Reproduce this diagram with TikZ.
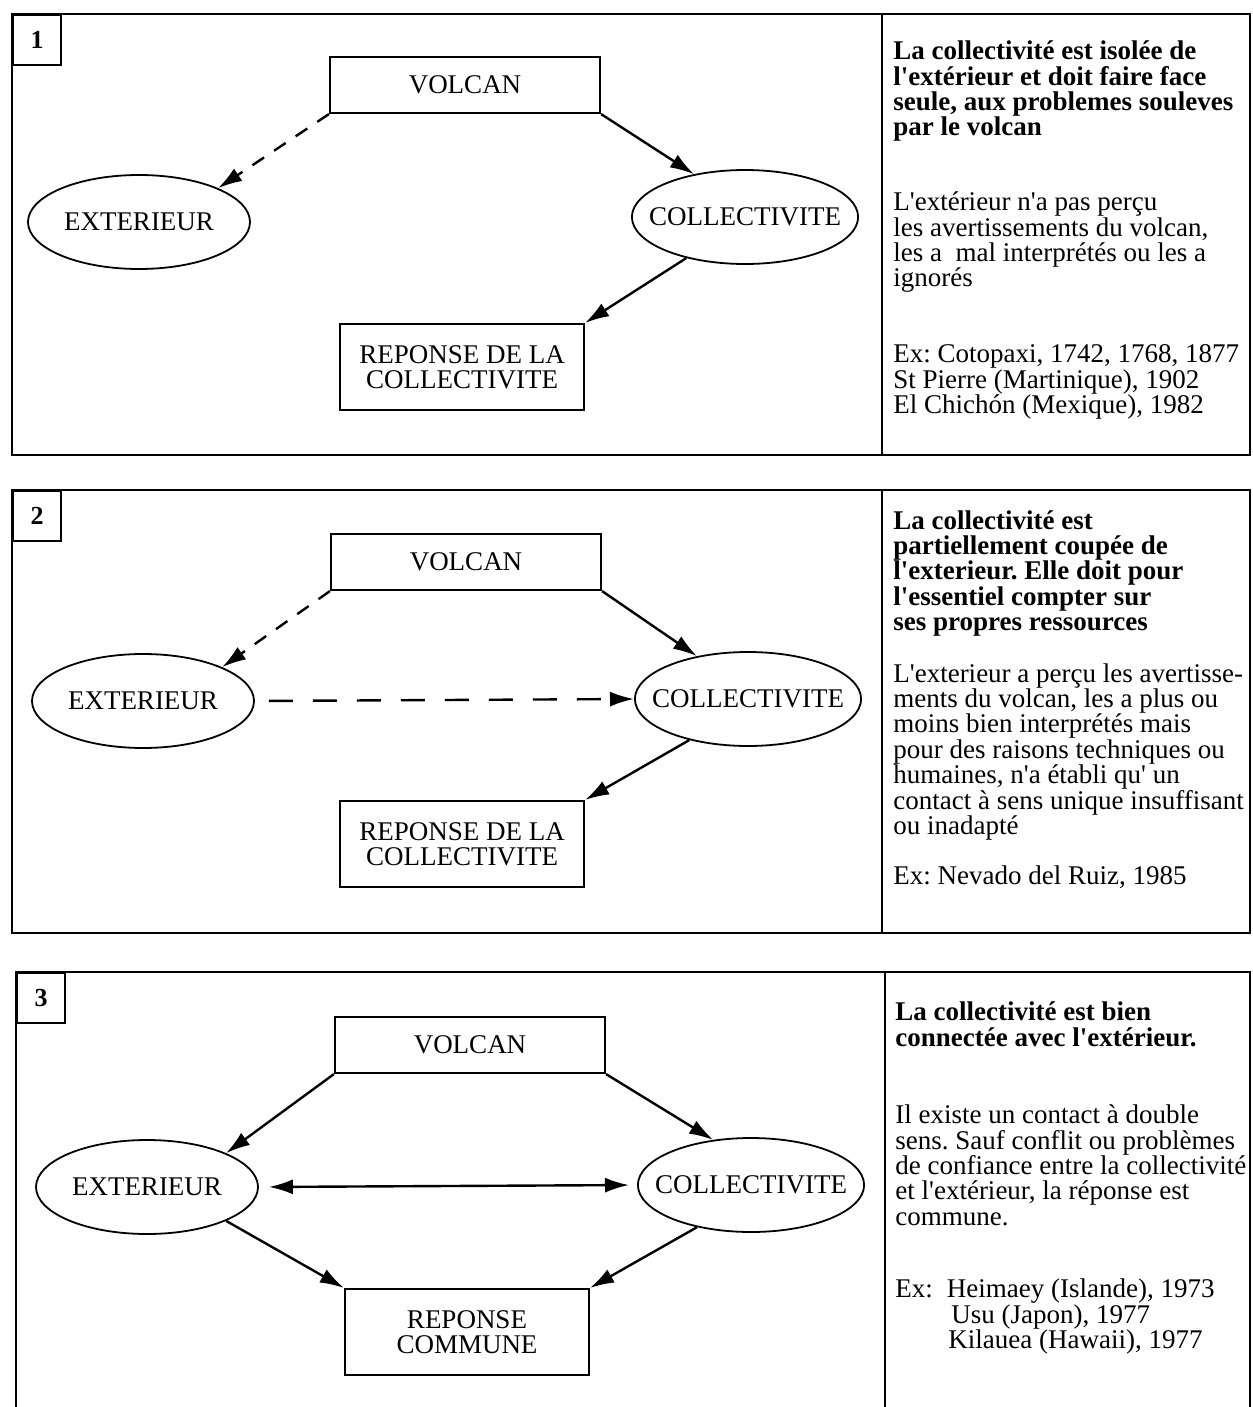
\documentclass[tikz,border=0pt]{standalone}
\usepackage{fontspec}
\setmainfont{Liberation Serif}[Ligatures=TeXOff]
\usetikzlibrary{arrows.meta, positioning, shapes.geometric}
\frenchspacing

\begin{document}
\begin{tikzpicture}[
    x=0.5pt, y=-0.5pt,
    every node/.style={font=\fontsize{13.5}{12.7}\selectfont},
    frame/.style={line width=1.1pt},
    numbox/.style={
        draw, line width=1.1pt, anchor=north west,
        minimum width=24pt, minimum height=25pt,
        font=\bfseries\fontsize{13}{13}\selectfont
    },
    source/.style={
        draw, rectangle, line width=1.1pt,
        minimum width=135pt, minimum height=28pt
    },
    actor/.style={
        draw, ellipse, line width=0.9pt,
        minimum width=111pt, minimum height=47pt,
        inner xsep=-8pt, inner ysep=0pt
    },
    outcome/.style={
        draw, rectangle, line width=1.1pt,
        minimum width=122pt, minimum height=43pt,
        align=center
    },
    lead/.style={
        anchor=north west, align=left, inner sep=0pt,
        font=\bfseries\fontsize{13.5}{12.7}\selectfont
    },
    note/.style={anchor=north west, align=left, inner sep=0pt},
    flow/.style={-{Latex[length=12pt, width=7.5pt]}, line width=1.2pt},
    weakflow/.style={flow, dash pattern=on 7pt off 6pt},
    biflow/.style={{Latex[length=12pt, width=7.5pt]}-{Latex[length=12pt, width=7.5pt]}, line width=1.2pt},
]
\useasboundingbox (0,0) rectangle (1252,1407);

% Panel 1: isolated community
\draw[frame] (12,14) rectangle (1250,455);
\draw[frame] (882,14) -- (882,455);
\node[numbox] (num1) at (12,14) {1};

\node[source] (volc1) at (465,85) {VOLCAN};
\node[actor] (ext1) at (139,222) {EXTERIEUR};
\node[actor] (coll1) at (745,217) {COLLECTIVITE};
\node[outcome] (resp1) at (462,367) {REPONSE DE LA\\COLLECTIVITE};

\draw[weakflow] (volc1.south west) -- (ext1.north east);
\draw[flow] (volc1.south east) -- (coll1.140);
\draw[flow] (coll1.215) -- (resp1.north east);

\node[lead] (lead1) at (893,40.5) {%
    La collectivité est isolée de\\
    l'extérieur et doit faire face\\
    seule, aux problemes souleves\\
    par le volcan
};
\node[note] (note1) at (893,191.5) {%
    L'extérieur n'a pas perçu\\
    les avertissements du volcan,\\
    les a\ \ mal interprétés ou les a\\
    ignorés
};
\node[note] (ex1) at (893,344.5) {%
    Ex: Cotopaxi, 1742, 1768, 1877\\
    St Pierre (Martinique), 1902\\
    El Chichón (Mexique), 1982
};

% Panel 2: partially cut-off community
\draw[frame] (12,490) rectangle (1250,933);
\draw[frame] (882,490) -- (882,933);
\node[numbox] (num2) at (12,490) {2};

\node[source] (volc2) at (466,562) {VOLCAN};
\node[actor] (ext2) at (143,701) {EXTERIEUR};
\node[actor] (coll2) at (748,699) {COLLECTIVITE};
\node[outcome] (resp2) at (462,844) {REPONSE DE LA\\COLLECTIVITE};

\draw[weakflow] (volc2.south west) -- (ext2.north east);
\draw[flow] (volc2.south east) -- (coll2.140);
\draw[weakflow, dash pattern=on 12pt off 10pt, shorten <=7pt] (ext2.east) -- (coll2.west);
\draw[flow] (coll2.215) -- (resp2.north east);

\node[lead] (lead2) at (893,510) {%
    La collectivité est\\
    partiellement coupée de\\
    l'exterieur. Elle doit pour\\
    l'essentiel compter sur\\
    ses propres ressources
};
\node[note] (note2) at (893,663) {%
    L'exterieur a perçu les avertisse-\\
    ments du volcan, les a plus ou\\
    moins bien interprétés mais\\
    pour des raisons techniques ou\\
    humaines, n'a établi qu' un\\
    contact à sens unique insuffisant\\
    ou inadapté
};
\node[note] (ex2) at (893,865) {Ex: Nevado del Ruiz, 1985};

% Panel 3: well connected community (frame runs off the page)
\draw[frame] (16,1407) |- (1250,972) -- (1250,1407);
\draw[frame] (885,972) -- (885,1407);
\node[numbox] (num3) at (16,972) {3};

\node[source] (volc3) at (470,1045) {VOLCAN};
\node[actor] (ext3) at (147,1187) {EXTERIEUR};
\node[actor] (coll3) at (751,1185) {COLLECTIVITE};
\node[outcome] (resp3) at (467,1332) {REPONSE\\COMMUNE};

\draw[flow] (volc3.south west) -- (ext3.north east);
\draw[flow] (volc3.south east) -- (coll3.130);
\draw[biflow, shorten <=5pt, shorten >=4pt] (ext3.east) -- (coll3.west);
\draw[flow] (ext3.south east) -- (resp3.north west);
\draw[flow] (coll3.218) -- (resp3.north east);

\node[lead] (lead3) at (895,1001.5) {%
    La collectivité est bien\\
    connectée avec l'extérieur.
};
\node[note] (note3) at (895,1104.5) {%
    Il existe un contact à double\\
    sens. Sauf conflit ou problèmes\\
    de confiance entre la collectivité\\
    et l'extérieur, la réponse est\\
    commune.
};
\node[note] (ex3) at (895,1278.5) {%
    Ex:\hspace{7pt}Heimaey (Islande), 1973\\
    \hspace*{28pt}Usu (Japon), 1977\\
    \hspace*{26.5pt}Kilauea (Hawaii), 1977
};

\end{tikzpicture}
\end{document}
